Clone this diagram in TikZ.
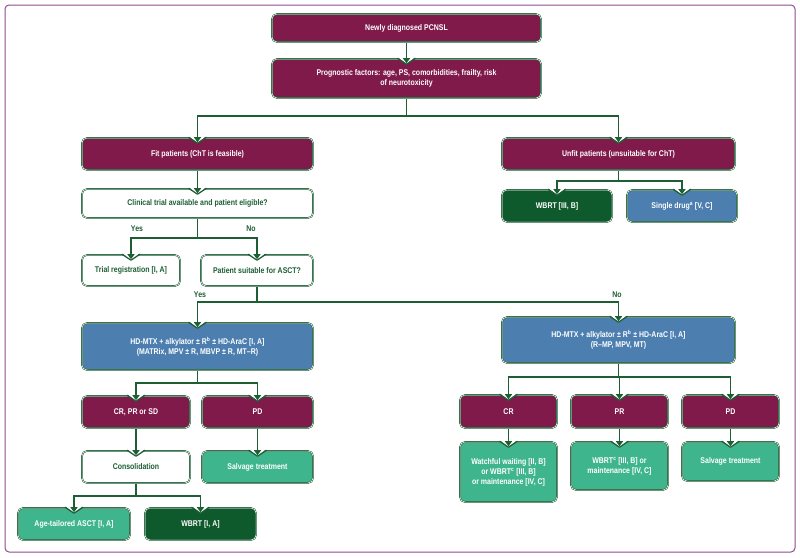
\documentclass[tikz,border=0pt]{standalone}
\usepackage{fontspec}
\setmainfont{Liberation Sans}[FakeStretch=0.84]
\usetikzlibrary{arrows.meta}
\definecolor{maroon}{HTML}{7F1A4A}
\definecolor{bblue}{HTML}{4C7FB0}
\definecolor{teal}{HTML}{3FB58E}
\definecolor{dgreen}{HTML}{0F5A2C}
\definecolor{cgreen}{HTML}{1D5E35}
\definecolor{frame}{HTML}{8E4E8E}
\begin{document}
\begin{tikzpicture}[x=1pt,y=-1pt,
  box/.style={draw=cgreen, line width=1.6pt, rounded corners=5pt, inner sep=0pt, align=center,
     font=\fontsize{8.3}{10}\selectfont\bfseries, postaction={draw=white,line width=0.5pt}},
  mar/.style={box, fill=maroon, text=white},
  blu/.style={box, fill=bblue, text=white},
  tea/.style={box, fill=teal, text=white},
  dgr/.style={box, fill=dgreen, text=white},
  wht/.style={box, fill=white, text=cgreen},
  conn/.style={draw=cgreen, line width=1.8pt, -{Triangle[length=5pt,width=7pt]}},
  line/.style={draw=cgreen, line width=1.8pt},
  lab/.style={text=cgreen, font=\fontsize{8.3}{10}\selectfont\bfseries, inner sep=1pt}]
\useasboundingbox (0,0) rectangle (800,557);
\fill[white] (0,0) rectangle (800,557);
\draw[frame, line width=1pt, rounded corners=4pt] (5,5) rectangle (795,552);
\newcommand\bx[5]{\node[#1, minimum width={#4}, minimum height={#5}] (#2) at (#3) {};}
% nodes: style, name, center, w, h, text
\node[mar, minimum width=269, minimum height=28] (new) at (406.5,28) {Newly diagnosed PCNSL};
\node[mar, minimum width=269, minimum height=39] (prog) at (406.5,78.5) {Prognostic factors: age, PS, comorbidities, frailty, risk\\of neurotoxicity};
\node[mar, minimum width=231, minimum height=32] (fit) at (197.5,154) {Fit patients (ChT is feasible)};
\node[wht, minimum width=231, minimum height=29] (clin) at (197.5,203.5) {Clinical trial available and patient eligible?};
\node[wht, minimum width=98, minimum height=31] (trial) at (131,270.5) {Trial registration [I, A]};
\node[wht, minimum width=112, minimum height=31] (suit) at (257,270.5) {Patient suitable for ASCT?};
\node[mar, minimum width=233, minimum height=32] (unfit) at (618.5,154) {Unfit patients (unsuitable for ChT)};
\node[dgr, minimum width=110, minimum height=32] (wb1) at (557,206) {WBRT [III, B]};
\node[blu, minimum width=110, minimum height=32] (single) at (682,206) {Single drug\textsuperscript{a} [V, C]};
\node[blu, minimum width=231, minimum height=47] (hdl) at (197.5,346.5) {HD-MTX + alkylator ± R\textsuperscript{b} ± HD-AraC [I, A]\\(MATRix, MPV ± R, MBVP ± R, MT–R)};
\node[mar, minimum width=108, minimum height=32] (crl) at (136,412) {CR, PR or SD};
\node[mar, minimum width=111, minimum height=32] (pdl) at (257.5,412) {PD};
\node[wht, minimum width=108, minimum height=32] (cons) at (136,467) {Consolidation};
\node[tea, minimum width=111, minimum height=32] (salvl) at (257.5,467) {Salvage treatment};
\node[tea, minimum width=112, minimum height=32] (asct) at (74,524) {Age-tailored ASCT [I, A]};
\node[dgr, minimum width=111, minimum height=32] (wb2) at (200.5,524) {WBRT [I, A]};
\node[blu, minimum width=233, minimum height=46] (hdr) at (618.5,340) {HD-MTX + alkylator ± R\textsuperscript{b} ± HD-AraC [I, A]\\(R–MP, MPV, MT)};
\node[mar, minimum width=97, minimum height=33] (cr) at (508.5,411.5) {CR};
\node[mar, minimum width=97, minimum height=33] (pr) at (619.5,411.5) {PR};
\node[mar, minimum width=97, minimum height=33] (pd) at (730.5,411.5) {PD};
\node[tea, minimum width=97, minimum height=60] (ww) at (508.5,472) {Watchful waiting [II, B]\\or WBRT\textsuperscript{c} [III, B]\\or maintenance [IV, C]};
\node[tea, minimum width=97, minimum height=48] (wbm) at (619.5,466) {WBRT\textsuperscript{c} [III, B] or\\maintenance [IV, C]};
\node[tea, minimum width=97, minimum height=39] (salvr) at (730.5,461.5) {Salvage treatment};
% notches
\foreach \n in {prog,fit,clin,trial,suit,unfit,wb1,single,hdl,crl,pdl,cons,salvl,asct,wb2,hdr,cr,pr,pd,ww,wbm,salvr}{
  \fill[white] ([xshift=-9pt,yshift=1.5pt]\n.north) -- ([xshift=9pt,yshift=1.5pt]\n.north) -- ([yshift=-6pt]\n.north) -- cycle;
  \draw[cgreen, line width=1.2pt, line join=round] ([xshift=-9pt]\n.north) -- ([yshift=-6pt]\n.north) -- ([xshift=9pt]\n.north);
}
% connectors
\draw[conn] (new.south) -- ([yshift=-5pt]prog.north);
\draw[line] (prog.south) -- ++(0,17) coordinate (p1);
\draw[conn] (p1) -| ([yshift=-5pt]fit.north);
\draw[conn] (p1) -| ([yshift=-5pt]unfit.north);
\draw[conn] (fit.south) -- ([yshift=-5pt]clin.north);
\draw[line] (clin.south) -- ++(0,19) coordinate (c1);
\draw[conn] (c1) -| ([yshift=-5pt]trial.north);
\draw[conn] (c1) -| ([yshift=-5pt]suit.north);
\node[lab] (yes1) at (137,229) {Yes};
\node[lab] (no1) at (251,229) {No};
\draw[line] (unfit.south) -- ++(0,10) coordinate (u1);
\draw[conn] (u1) -| ([yshift=-5pt]wb1.north);
\draw[conn] (u1) -| ([yshift=-5pt]single.north);
\draw[line] (suit.south) -- (257,302) coordinate (s1);
\draw[conn] (s1) -| ([yshift=-5pt]hdl.north);
\draw[conn] (s1) -| ([yshift=-5pt]hdr.north);
\node[lab] (yes2) at (200,295) {Yes};
\node[lab] (no2) at (617,295) {No};
\draw[line] (hdl.south) -- ++(0,12) coordinate (h1);
\draw[conn] (h1) -| ([yshift=-5pt]crl.north);
\draw[conn] (h1) -| ([yshift=-5pt]pdl.north);
\draw[conn] (crl.south) -- ([yshift=-5pt]cons.north);
\draw[conn] (pdl.south) -- ([yshift=-5pt]salvl.north);
\draw[line] (cons.south) -- ++(0,12) coordinate (k1);
\draw[conn] (k1) -| ([yshift=-5pt]asct.north);
\draw[conn] (k1) -| ([yshift=-5pt]wb2.north);
\draw[line] (hdr.south) -- ++(0,13) coordinate (r1);
\draw[conn] (r1) -| ([yshift=-5pt]cr.north);
\draw[conn] (r1) -| ([yshift=-5pt]pr.north);
\draw[conn] (r1) -| ([yshift=-5pt]pd.north);
\draw[conn] (cr.south) -- ([yshift=-5pt]ww.north);
\draw[conn] (pr.south) -- ([yshift=-5pt]wbm.north);
\draw[conn] (pd.south) -- ([yshift=-5pt]salvr.north);
\end{tikzpicture}
\end{document}
